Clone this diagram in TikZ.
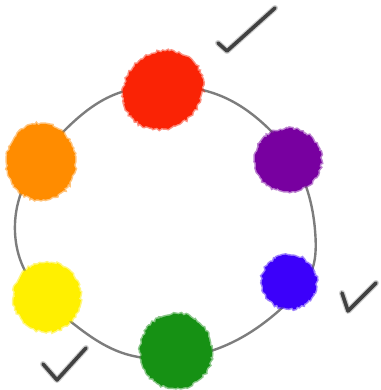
\documentclass[tikz,border=0pt]{standalone}
\usetikzlibrary{shapes.geometric,decorations.pathmorphing}
\definecolor{cRed}{RGB}{250,35,5}
\definecolor{cOrange}{RGB}{255,140,0}
\definecolor{cYellow}{RGB}{255,240,0}
\definecolor{cGreen}{RGB}{22,145,20}
\definecolor{cBlue}{RGB}{60,0,250}
\definecolor{cPurple}{RGB}{120,0,160}
\definecolor{ringgray}{RGB}{125,125,125}
\definecolor{tickgray}{RGB}{65,65,65}
\tikzset{
  ringline/.style={draw=ringgray, line width=2.4pt},
  blob/.style={ellipse, inner sep=0pt, fill=#1, draw=#1, draw opacity=0.5, line width=3pt,
    decorate, decoration={random steps, segment length=2pt, amplitude=1.2pt}},
  tickmark/.style={draw=tickgray, line width=3.6pt, line cap=round, line join=round},
  tickhalo/.style={draw=tickgray, line width=6pt, opacity=0.25, line cap=round, line join=round}
}
\begin{document}
\begin{tikzpicture}[x=1pt,y=-1pt]
\useasboundingbox (0,0) rectangle (380,390);
\fill[white] (0,0) rectangle (380,390);
\pgfmathsetseed{11}
% ring
\draw[ringline] plot[smooth cycle, tension=0.75] coordinates {
  (15,232) (67,128) (165,86) (268,128) (315,230) (283,307) (176,358) (75,325)};
% blobs
\node[blob=cRed, minimum width=82pt, minimum height=74pt, rotate=40] (red) at (163,90) {};
\node[blob=cPurple, minimum width=66pt, minimum height=62pt] (purple) at (288,160) {};
\node[blob=cBlue, minimum width=54pt, minimum height=53pt] (blue) at (289,282) {};
\node[blob=cGreen, minimum width=71pt, minimum height=74pt] (green) at (176,351) {};
\node[blob=cYellow, minimum width=66pt, minimum height=69pt] (yellow) at (47,297) {};
\node[blob=cOrange, minimum width=68pt, minimum height=76pt] (orange) at (41,162) {};
% check marks
\foreach \s in {tickhalo,tickmark}{
  \draw[\s] (218,43) -- (227,51) -- (275,8);
  \draw[\s] (342,293) -- (348,311) -- (376,283);
  \draw[\s] (43,364) -- (57,380) -- (86,348);
}
\end{tikzpicture}
\end{document}
